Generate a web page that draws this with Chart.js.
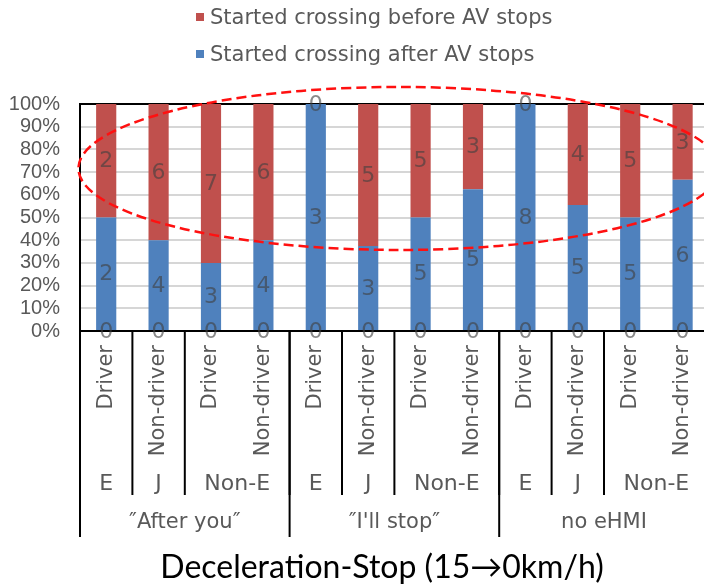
<!DOCTYPE html>
<html>
<head>
<meta charset="utf-8">
<script src="https://cdn.jsdelivr.net/npm/chart.js@4"></script>
<style>
  html, body { margin: 0; padding: 0; background: #fff; overflow: hidden; width: 704px; height: 584px; }
  canvas { position: absolute; left: 0; top: 0; }
</style>
</head>
<body>
<canvas id="c" width="720" height="584"></canvas>
<script>
// Participant type per bar, and the two grouping levels underneath
const participantLabels = ['Driver', 'Non-driver', 'Driver', 'Non-driver',
                           'Driver', 'Non-driver', 'Driver', 'Non-driver',
                           'Driver', 'Non-driver', 'Driver', 'Non-driver'];
const nationalityLabels = ['E', 'J', 'Non-E', 'E', 'J', 'Non-E', 'E', 'J', 'Non-E'];
const nationalitySpans  = [1, 1, 2, 1, 1, 2, 1, 1, 2];
const messageLabels = ['\u2033After you\u2033', '\u2033I\'ll stop\u2033', 'no eHMI'];
const messageSpans  = [4, 4, 4];

// Counts of participants
const afterStopCounts  = [2, 4, 3, 4, 3, 3, 5, 5, 8, 5, 5, 6];
const beforeStopCounts = [2, 6, 7, 6, 0, 5, 5, 3, 0, 4, 5, 3];
const noneCounts       = [0, 0, 0, 0, 0, 0, 0, 0, 0, 0, 0, 0];

const seriesNames = ['Started crossing before AV stops', 'Started crossing after AV stops'];
const yTicks = [0, 10, 20, 30, 40, 50, 60, 70, 80, 90, 100];
const chartTitle = 'Deceleration-Stop (15\u21920km/h)';

// Highlight ellipse, in category-index / percent units
const highlight = { cx: 5.59, cy: 71.6, rx: 6.12, ry: 35.9 };

const RED = '#C0504D';
const BLUE = '#4F81BD';
const GRAY = '#595959';

const totals = afterStopCounts.map((v, i) => v + beforeStopCounts[i] + noneCounts[i]);
const toPct = arr => arr.map((v, i) => v / totals[i] * 100);

const barLabels = (ctx, chart) => {
  ctx.save();
  ctx.font = '22px "DejaVu Sans"';
  ctx.fillStyle = 'rgba(64,64,64,0.62)';
  ctx.textAlign = 'center';
  ctx.textBaseline = 'middle';
  chart.data.datasets.forEach((ds, di) => {
    const meta = chart.getDatasetMeta(di);
    meta.data.forEach((el, i) => {
      const p = el.getProps(['x', 'y', 'base'], true);
      ctx.fillText(String(ds.counts[i]), p.x, (p.y + p.base) / 2 + 1);
    });
  });
  ctx.restore();
};

const decorations = {
  id: 'decorations',
  beforeDatasetsDraw(chart) {
    const { ctx, chartArea: a } = chart;
    ctx.save();
    ctx.strokeStyle = '#000';
    ctx.lineWidth = 2;
    ctx.beginPath();
    ctx.moveTo(a.left, a.top);
    ctx.lineTo(a.right, a.top);
    ctx.stroke();
    ctx.restore();
  },
  afterDatasetsDraw(chart) {
    barLabels(chart.ctx, chart);
  },
  afterDraw(chart) {
    const { ctx, chartArea: a, scales } = chart;
    const xs = scales.x, ys = scales.y;
    const n = participantLabels.length;
    const edge = k => k <= 0 ? a.left : (k >= n ? a.right : (xs.getPixelForValue(k - 1) + xs.getPixelForValue(k)) / 2);

    ctx.save();
    // participant labels, rotated
    ctx.fillStyle = GRAY;
    ctx.font = '21px "DejaVu Sans"';
    ctx.textAlign = 'right';
    ctx.textBaseline = 'middle';
    participantLabels.forEach((t, i) => {
      ctx.save();
      ctx.translate(xs.getPixelForValue(i), a.bottom + 14);
      ctx.rotate(-Math.PI / 2);
      ctx.fillText(t, 0, 0);
      ctx.restore();
    });

    // nationality level
    ctx.textAlign = 'center';
    ctx.font = '22px "DejaVu Sans"';
    ctx.strokeStyle = '#000';
    ctx.lineWidth = 2;
    let k = 0;
    nationalitySpans.forEach((s, j) => {
      const x0 = edge(k), x1 = edge(k + s);
      ctx.fillText(nationalityLabels[j], (x0 + x1) / 2, a.bottom + 153);
      if (k > 0) {
        ctx.beginPath(); ctx.moveTo(x0, a.bottom); ctx.lineTo(x0, a.bottom + 164); ctx.stroke();
      }
      k += s;
    });

    // message level
    ctx.font = '21px "DejaVu Sans"';
    k = 0;
    messageSpans.forEach((s, j) => {
      const x0 = edge(k), x1 = edge(k + s);
      ctx.fillText(messageLabels[j], (x0 + x1) / 2, a.bottom + 192);
      ctx.beginPath(); ctx.moveTo(x0, a.bottom); ctx.lineTo(x0, a.bottom + 206); ctx.stroke();
      k += s;
    });

    // highlight ellipse
    const cx = xs.getPixelForValue(highlight.cx);
    const rx = xs.getPixelForValue(highlight.cx + highlight.rx) - cx;
    const cy = ys.getPixelForValue(highlight.cy);
    const ry = ys.getPixelForValue(highlight.cy - highlight.ry) - cy;
    ctx.strokeStyle = '#FF1010';
    ctx.lineWidth = 2.5;
    ctx.setLineDash([10, 5]);
    ctx.beginPath();
    ctx.ellipse(cx, cy, rx, ry, 0, 0, Math.PI * 2);
    ctx.stroke();
    ctx.setLineDash([]);

    // legend
    const legend = [
      { name: seriesNames[0], color: RED, y: 19 },
      { name: seriesNames[1], color: BLUE, y: 56 }
    ];
    ctx.font = '21px "DejaVu Sans"';
    ctx.textAlign = 'left';
    ctx.textBaseline = 'middle';
    legend.forEach(l => {
      ctx.fillStyle = l.color;
      ctx.fillRect(196, l.y - 6, 8, 8);
      ctx.fillStyle = GRAY;
      ctx.fillText(l.name, 210, l.y);
    });

    // title
    ctx.fillStyle = '#000';
    ctx.font = '32px Lato, "Open Sans", sans-serif';
    ctx.textAlign = 'center';
    ctx.textBaseline = 'alphabetic';
    ctx.fillText(chartTitle, 382, 578);
    ctx.restore();
  }
};

new Chart(document.getElementById('c'), {
  type: 'bar',
  data: {
    labels: participantLabels,
    datasets: [
      { label: 'none', data: toPct(noneCounts), counts: noneCounts, backgroundColor: BLUE },
      { label: seriesNames[1], data: toPct(afterStopCounts), counts: afterStopCounts, backgroundColor: BLUE },
      { label: seriesNames[0], data: toPct(beforeStopCounts), counts: beforeStopCounts, backgroundColor: RED }
    ]
  },
  options: {
    responsive: false,
    animation: false,
    devicePixelRatio: 1,
    layout: { padding: { left: 0, top: 104, right: 11.2, bottom: 253 } },
    datasets: { bar: { barPercentage: 0.385, categoryPercentage: 1.0, borderWidth: 0 } },
    plugins: { legend: { display: false }, tooltip: { enabled: false } },
    scales: {
      x: {
        stacked: true,
        ticks: { display: false },
        grid: { display: false, drawTicks: false },
        border: { display: true, color: '#000', width: 2 },
        afterFit: s => { s.height = 0; }
      },
      y: {
        stacked: true,
        min: 0, max: 100,
        afterBuildTicks: s => { s.ticks = yTicks.map(v => ({ value: v })); },
        ticks: {
          autoSkip: false,
          padding: 20,
          color: GRAY,
          font: { family: '"Liberation Sans"', size: 20 },
          callback: v => v + '%'
        },
        grid: { color: '#D6D6D6', lineWidth: 2, drawTicks: false },
        border: { display: true, color: '#000', width: 2 },
        afterFit: s => { s.width = 80; }
      }
    }
  },
  plugins: [decorations]
});
</script>
</body>
</html>
